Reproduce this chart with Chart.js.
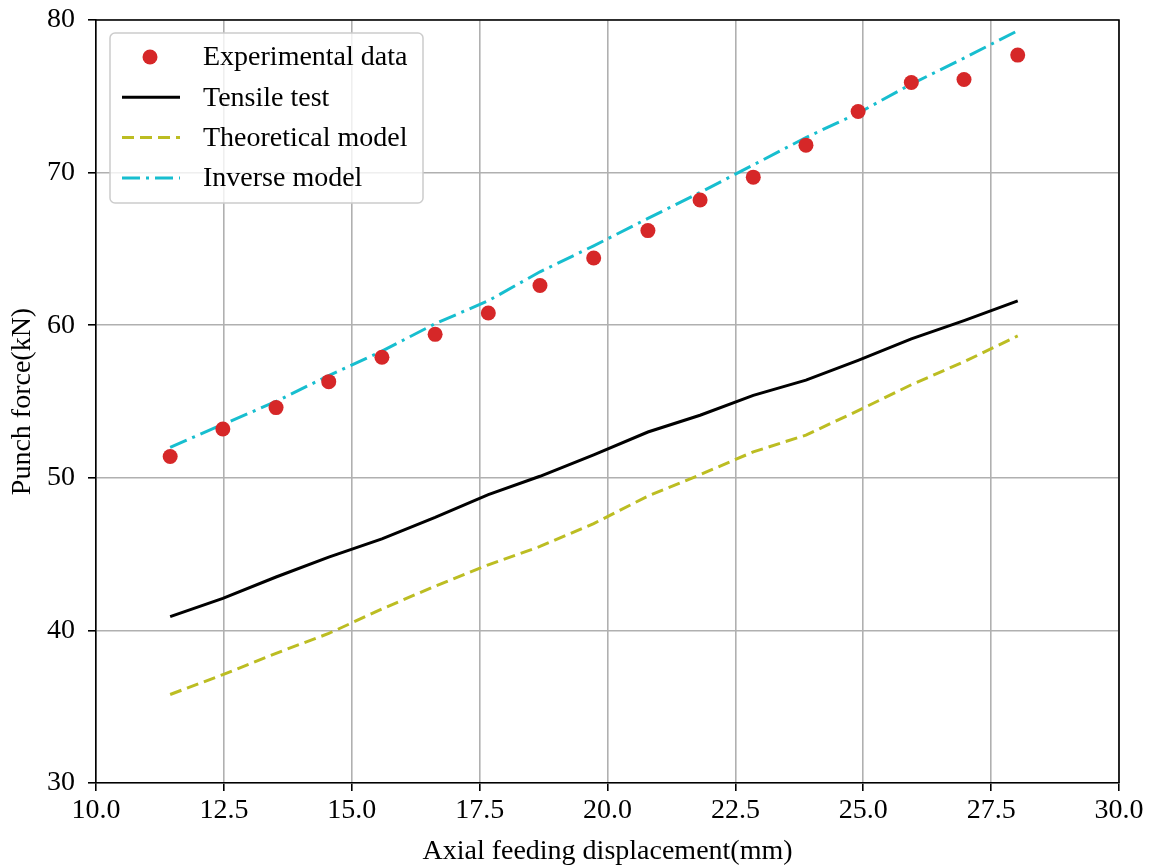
<!DOCTYPE html>
<html>
<head>
<meta charset="utf-8">
<script src="https://cdn.jsdelivr.net/npm/chart.js@4/dist/chart.umd.min.js"></script>
<style>
  html, body { margin: 0; padding: 0; background: #fff; }
  #wrap { width: 1153px; height: 868px; }
</style>
</head>
<body>
<div id="wrap"><canvas id="punch-chart"></canvas></div>
<script>
// axial feed (mm) at each sample
const feed = [11.45, 12.48, 13.52, 14.55, 15.59, 16.63, 17.67, 18.68, 19.73, 20.79, 21.81, 22.85, 23.88, 24.90, 25.94, 26.97, 28.02];
// punch force (kN)
const experimental = [51.4, 53.2, 54.6, 56.3, 57.9, 59.4, 60.8, 62.6, 64.4, 66.2, 68.2, 69.7, 71.8, 74.0, 75.9, 76.1, 77.7];
const tensileTest = [40.9, 42.1, 43.5, 44.8, 46.0, 47.4, 48.9, 50.1, 51.5, 53.0, 54.1, 55.4, 56.4, 57.7, 59.1, 60.3, 61.6];
const theoretical = [35.8, 37.1, 38.5, 39.8, 41.4, 42.9, 44.3, 45.5, 47.0, 48.8, 50.2, 51.7, 52.8, 54.4, 56.1, 57.6, 59.3];
const inverse = [52.0, 53.5, 55.0, 56.7, 58.3, 60.1, 61.6, 63.5, 65.2, 67.0, 68.7, 70.5, 72.3, 73.9, 75.8, 77.5, 79.3];

const xTicks = [10, 12.5, 15, 17.5, 20, 22.5, 25, 27.5, 30];
const yTicks = [30, 40, 50, 60, 70, 80];

const pts = (ys) => feed.map((x, i) => ({ x: x, y: ys[i] }));

Chart.defaults.font.family = "'Liberation Serif', 'Times New Roman', serif";
Chart.defaults.font.size = 28;
Chart.defaults.color = "#000";

// legend inside the axes + top/right frame, drawn like matplotlib
const boxLegend = {
  id: "boxLegend",
  afterDraw(chart) {
    const ctx = chart.ctx;
    const a = chart.chartArea;
    ctx.save();
    ctx.strokeStyle = "#000";
    ctx.lineWidth = 1.6;
    ctx.beginPath();
    ctx.moveTo(a.left, a.top);
    ctx.lineTo(a.right, a.top);
    ctx.lineTo(a.right, a.bottom);
    ctx.stroke();

    const x0 = a.left + 14, y0 = a.top + 13, w = 313, h = 170, r = 5;
    ctx.fillStyle = "rgba(255,255,255,0.8)";
    ctx.strokeStyle = "#cccccc";
    ctx.lineWidth = 1.5;
    ctx.beginPath();
    ctx.roundRect(x0, y0, w, h, r);
    ctx.fill();
    ctx.stroke();

    ctx.font = "28px 'Liberation Serif', serif";
    ctx.textBaseline = "middle";
    chart.data.datasets.forEach((ds, i) => {
      const cy = y0 + 24 + i * 40.3;
      if (ds.showLine === false) {
        ctx.fillStyle = ds.pointBackgroundColor;
        ctx.beginPath();
        ctx.arc(x0 + 40, cy, 7.5, 0, Math.PI * 2);
        ctx.fill();
      } else {
        ctx.strokeStyle = ds.borderColor;
        ctx.lineWidth = ds.borderWidth;
        ctx.setLineDash(ds.borderDash || []);
        ctx.beginPath();
        ctx.moveTo(x0 + 12, cy);
        ctx.lineTo(x0 + 70, cy);
        ctx.stroke();
        ctx.setLineDash([]);
      }
      ctx.fillStyle = "#000";
      ctx.fillText(ds.label, x0 + 93, cy + 1);
    });
    ctx.restore();
  },
};

new Chart(document.getElementById("punch-chart"), {
  type: "line",
  data: {
    datasets: [
      {
        label: "Experimental data",
        data: pts(experimental),
        showLine: false,
        pointRadius: 7.5,
        pointBackgroundColor: "#d62728",
        pointBorderWidth: 0,
        borderColor: "#d62728",
      },
      {
        label: "Tensile test",
        data: pts(tensileTest),
        borderColor: "#000000",
        borderWidth: 3,
        pointRadius: 0,
      },
      {
        label: "Theoretical model",
        data: pts(theoretical),
        borderColor: "#bcbd22",
        borderWidth: 3,
        borderDash: [12, 6],
        pointRadius: 0,
      },
      {
        label: "Inverse model",
        data: pts(inverse),
        borderColor: "#17becf",
        borderWidth: 3,
        borderDash: [18, 6, 3, 6],
        pointRadius: 0,
      },
    ],
  },
  options: {
    responsive: true,
    maintainAspectRatio: false,
    animation: false,
    layout: { padding: { left: 6, right: 34, top: 20, bottom: 0 } },
    plugins: { legend: { display: false }, tooltip: { enabled: false } },
    scales: {
      x: {
        type: "linear",
        min: 10,
        max: 30,
        afterBuildTicks: (s) => { s.ticks = xTicks.map((v) => ({ value: v })); },
        afterFit: (s) => { s.height = 85; s.paddingLeft = 0; s.paddingRight = 0; },
        ticks: { padding: 3, callback: (v) => Number(v).toFixed(1) },
        grid: { color: "#b0b0b0", lineWidth: 1.6, tickColor: "#000", tickLength: 8, tickWidth: 1.6 },
        border: { color: "#000", width: 1.6 },
        title: { display: true, text: "Axial feeding displacement(mm)", padding: 0 },
      },
      y: {
        min: 30,
        max: 80,
        afterBuildTicks: (s) => { s.ticks = yTicks.map((v) => ({ value: v })); },
        afterFit: (s) => { s.width = 90; s.paddingTop = 0; s.paddingBottom = 0; },
        ticks: { padding: 13 },
        grid: { color: "#b0b0b0", lineWidth: 1.6, tickColor: "#000", tickLength: 8, tickWidth: 1.6 },
        border: { color: "#000", width: 1.6 },
        title: { display: true, text: "Punch force(kN)", padding: 0 },
      },
    },
  },
  plugins: [boxLegend],
});
</script>
</body>
</html>
